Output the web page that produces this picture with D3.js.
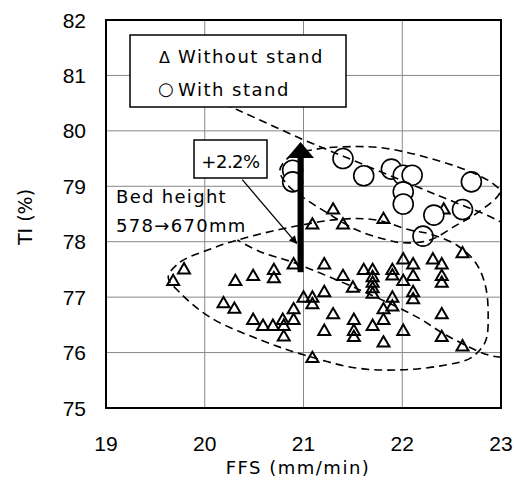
<!DOCTYPE html>
<html>
<head>
<meta charset="utf-8">
<script src="https://cdn.jsdelivr.net/npm/d3@7"></script>
<style>
  body { margin: 0; background: #fff; }
  text { font-family: "DejaVu Sans", sans-serif; fill: #000; }
</style>
</head>
<body>
<script>
/* CONSTANTS */
const WIDTH = 514;
const HEIGHT = 480;

/* DATA */
const xTicks = [19, 20, 21, 22, 23];
const yTicks = [75, 76, 77, 78, 79, 80, 81, 82];

// Without stand (triangles)
const withoutFFS = [19.68, 19.79, 20.19, 20.30, 20.31, 20.49, 20.49, 20.59, 20.69, 20.70,
                    20.70, 20.79, 20.80, 20.80, 20.90, 20.90, 20.90, 21.00, 21.09, 21.09,
                    21.09, 21.09, 21.21, 21.21, 21.21, 21.30, 21.30, 21.40, 21.40, 21.50,
                    21.51, 21.51, 21.51, 21.61, 21.70, 21.70, 21.70, 21.70, 21.70, 21.70,
                    21.81, 21.81, 21.81, 21.81, 21.90, 21.90, 21.90, 21.90, 22.01, 22.01,
                    22.01, 22.11, 22.11, 22.11, 22.11, 22.31, 22.40, 22.40, 22.40, 22.40,
                    22.40, 22.42, 22.61, 22.61];
const withoutTI  = [77.28, 77.49, 76.88, 76.78, 77.28, 77.37, 76.58, 76.47, 76.47, 77.48,
                    77.33, 76.58, 76.47, 76.28, 76.77, 76.58, 77.58, 76.98, 76.98, 76.86,
                    75.89, 78.30, 77.58, 77.08, 76.38, 76.68, 78.57, 77.37, 78.30, 77.16,
                    76.58, 76.38, 76.27, 77.48, 77.48, 77.35, 77.25, 77.15, 77.05, 76.47,
                    78.40, 76.77, 76.58, 76.17, 77.48, 77.38, 76.98, 76.82, 77.67, 77.28,
                    76.38, 77.58, 77.37, 77.08, 76.95, 77.67, 77.58, 77.37, 77.25, 76.68,
                    76.27, 78.57, 77.78, 76.10];

// With stand (circles)
const withFFS = [20.89, 20.89, 21.40, 21.61, 21.89, 22.01, 22.10, 22.01, 22.01, 22.32, 22.61, 22.70, 22.21];
const withTI  = [79.29, 79.08, 79.50, 79.19, 79.31, 79.20, 79.20, 78.90, 78.68, 78.48, 78.58, 79.08, 78.10];

// dashed enclosures, [FFS, TI]
const withoutRegion = [[19.63, 77.36], [19.75, 77.63], [20.03, 77.85], [20.33, 78.03], [20.89, 78.27],
                       [21.40, 78.41], [21.74, 78.39], [22.08, 78.21], [22.28, 78.14], [22.55, 77.94],
                       [22.74, 77.63], [22.84, 77.22], [22.87, 76.68], [22.84, 76.19], [22.69, 75.90],
                       [22.45, 75.78], [22.01, 75.69], [21.54, 75.72], [21.00, 75.96], [20.56, 76.23],
                       [20.05, 76.64], [19.75, 77.08]];
const withRegion = [[20.76, 79.29], [20.88, 79.56], [21.10, 79.66], [21.37, 79.71], [21.81, 79.69],
                    [22.35, 79.47], [22.69, 79.26], [22.91, 79.06], [22.99, 78.90], [22.76, 78.52],
                    [22.55, 78.30], [22.28, 78.03], [22.01, 77.98], [21.85, 78.03], [21.54, 78.21],
                    [21.24, 78.52], [21.02, 78.77], [20.84, 79.02]];
const trendBand = [[19.95, 80.67], [20.33, 80.38], [21.00, 79.84], [21.57, 79.42], [22.15, 78.99],
                   [22.55, 78.70], [22.96, 78.39], [23.34, 77.94], [23.48, 76.95], [23.29, 76.14],
                   [22.99, 75.92], [22.48, 76.28], [22.15, 76.64], [21.57, 77.13], [20.89, 77.63],
                   [20.56, 77.82], [20.33, 78.03]];

// bed height arrow
const arrowFFS = 20.97;
const arrowFrom = 77.45;
const arrowTo = 79.8;
const pointerFrom = [20.38, 79.12];
const pointerTo = [20.93, 77.97];

/* D3 */
const svg = d3.select("body")
    .append("svg")
    .attr("width", WIDTH)
    .attr("height", HEIGHT);

const x = d3.scaleLinear().domain([19, 23]).range([106, 501]);
const y = d3.scaleLinear().domain([75, 82]).range([408, 20]);

svg.append("defs").append("clipPath")
    .attr("id", "plot")
    .append("rect")
    .attr("x", x(19)).attr("y", y(82))
    .attr("width", x(23) - x(19)).attr("height", y(75) - y(82));

svg.append("defs").append("marker")
    .attr("id", "head")
    .attr("viewBox", "0 0 10 10")
    .attr("refX", 9).attr("refY", 5)
    .attr("markerWidth", 10).attr("markerHeight", 8)
    .attr("markerUnits", "userSpaceOnUse")
    .attr("orient", "auto")
    .append("path")
    .attr("d", "M0,0L10,5L0,10Z")
    .attr("fill", "#000");

// grid
const grid = svg.append("g").attr("stroke", "#888").attr("stroke-width", 1);
grid.selectAll(".gx")
    .data(xTicks.slice(1, -1))
    .enter().append("line")
    .attr("x1", d => x(d)).attr("x2", d => x(d))
    .attr("y1", y(82)).attr("y2", y(75));
grid.selectAll(".gy")
    .data(yTicks.slice(1, -1))
    .enter().append("line")
    .attr("x1", x(19)).attr("x2", x(23))
    .attr("y1", d => y(d)).attr("y2", d => y(d));

// tick labels
svg.selectAll(".xl")
    .data(xTicks)
    .enter().append("text")
    .attr("x", d => x(d))
    .attr("y", 451)
    .attr("text-anchor", "middle")
    .style("font-family", "'Liberation Sans', sans-serif")
    .style("font-size", "21px")
    .text(d => d);

svg.selectAll(".yl")
    .data(yTicks)
    .enter().append("text")
    .attr("x", 86)
    .attr("y", d => y(d) + 7.5)
    .attr("text-anchor", "end")
    .style("font-family", "'Liberation Sans', sans-serif")
    .style("font-size", "21px")
    .text(d => d);

// axis titles
svg.append("text")
    .attr("x", 298).attr("y", 474)
    .attr("text-anchor", "middle")
    .style("font-size", "18px")
    .style("letter-spacing", "1.5px")
    .text("FFS (mm/min)");

svg.append("text")
    .attr("transform", "translate(32,217) rotate(-90)")
    .attr("text-anchor", "middle")
    .style("font-size", "19px")
    .text("TI (%)");

// markers
const marks = svg.append("g").attr("clip-path", "url(#plot)");

marks.selectAll(".tri")
    .data(d3.zip(withoutFFS, withoutTI))
    .enter().append("path")
    .attr("d", d3.symbol(d3.symbolTriangle, 62))
    .attr("transform", d => `translate(${x(d[0])},${y(d[1])})`)
    .attr("fill", "none")
    .attr("stroke", "#000")
    .attr("stroke-width", 2);

marks.selectAll(".cir")
    .data(d3.zip(withFFS, withTI))
    .enter().append("circle")
    .attr("cx", d => x(d[0]))
    .attr("cy", d => y(d[1]))
    .attr("r", 10)
    .attr("fill", "#fff")
    .attr("stroke", "#000")
    .attr("stroke-width", 1.6);

// dashed enclosures
const closed = d3.line().x(d => x(d[0])).y(d => y(d[1])).curve(d3.curveCatmullRomClosed.alpha(0.5));
const open = d3.line().x(d => x(d[0])).y(d => y(d[1])).curve(d3.curveCatmullRom.alpha(0.5));

marks.selectAll(".zone")
    .data([closed(withoutRegion), closed(withRegion), open(trendBand)])
    .enter().append("path")
    .attr("d", d => d)
    .attr("fill", "none")
    .attr("stroke", "#000")
    .attr("stroke-width", 1.6)
    .attr("stroke-dasharray", "8,5");

// bed height arrow
const ax = x(arrowFFS), y0 = y(arrowFrom), y1 = y(arrowTo);
svg.append("rect")
    .attr("x", ax - 3).attr("y", y1 + 14)
    .attr("width", 6).attr("height", y0 - y1 - 14)
    .attr("fill", "#000");
svg.append("path")
    .attr("d", `M${ax},${y1}L${ax - 13.5},${y1 + 16}L${ax + 13.5},${y1 + 16}Z`)
    .attr("fill", "#000");

svg.append("line")
    .attr("x1", x(pointerFrom[0])).attr("y1", y(pointerFrom[1]))
    .attr("x2", x(pointerTo[0])).attr("y2", y(pointerTo[1]))
    .attr("stroke", "#000")
    .attr("stroke-width", 1.3)
    .attr("marker-end", "url(#head)");

// +2.2% box
svg.append("rect")
    .attr("x", 194).attr("y", 140)
    .attr("width", 73).attr("height", 38)
    .attr("fill", "#fff")
    .attr("stroke", "#000")
    .attr("stroke-width", 1.5);
svg.append("text")
    .attr("x", 230.5).attr("y", 168)
    .attr("text-anchor", "middle")
    .style("font-size", "18px")
    .style("letter-spacing", "-0.5px")
    .text("+2.2%");

// bed height note
svg.append("text")
    .attr("x", 116).attr("y", 203)
    .style("font-size", "18px")
    .style("letter-spacing", "1.3px")
    .text("Bed height");
svg.append("text")
    .attr("x", 116).attr("y", 232)
    .style("font-size", "18px")
    .style("letter-spacing", "1.3px")
    .text("578\u2192670mm");

// legend
const legend = svg.append("g");
legend.append("rect")
    .attr("x", 130).attr("y", 35)
    .attr("width", 216).attr("height", 72)
    .attr("fill", "#fff")
    .attr("stroke", "#000")
    .attr("stroke-width", 1.5);
legend.append("text").attr("x", 159).attr("y", 63).style("font-size", "16px").text("\u0394");
legend.append("text").attr("x", 178).attr("y", 63).style("font-size", "18px")
    .style("letter-spacing", "1.5px").text("Without stand");
legend.append("text").attr("x", 158).attr("y", 95).style("font-size", "18px").text("\u25CB");
legend.append("text").attr("x", 178).attr("y", 96).style("font-size", "18px")
    .style("letter-spacing", "1.5px").text("With stand");

// frame
svg.append("rect")
    .attr("x", x(19)).attr("y", y(82))
    .attr("width", x(23) - x(19)).attr("height", y(75) - y(82))
    .attr("fill", "none")
    .attr("stroke", "#000")
    .attr("stroke-width", 2);
</script>
</body>
</html>
